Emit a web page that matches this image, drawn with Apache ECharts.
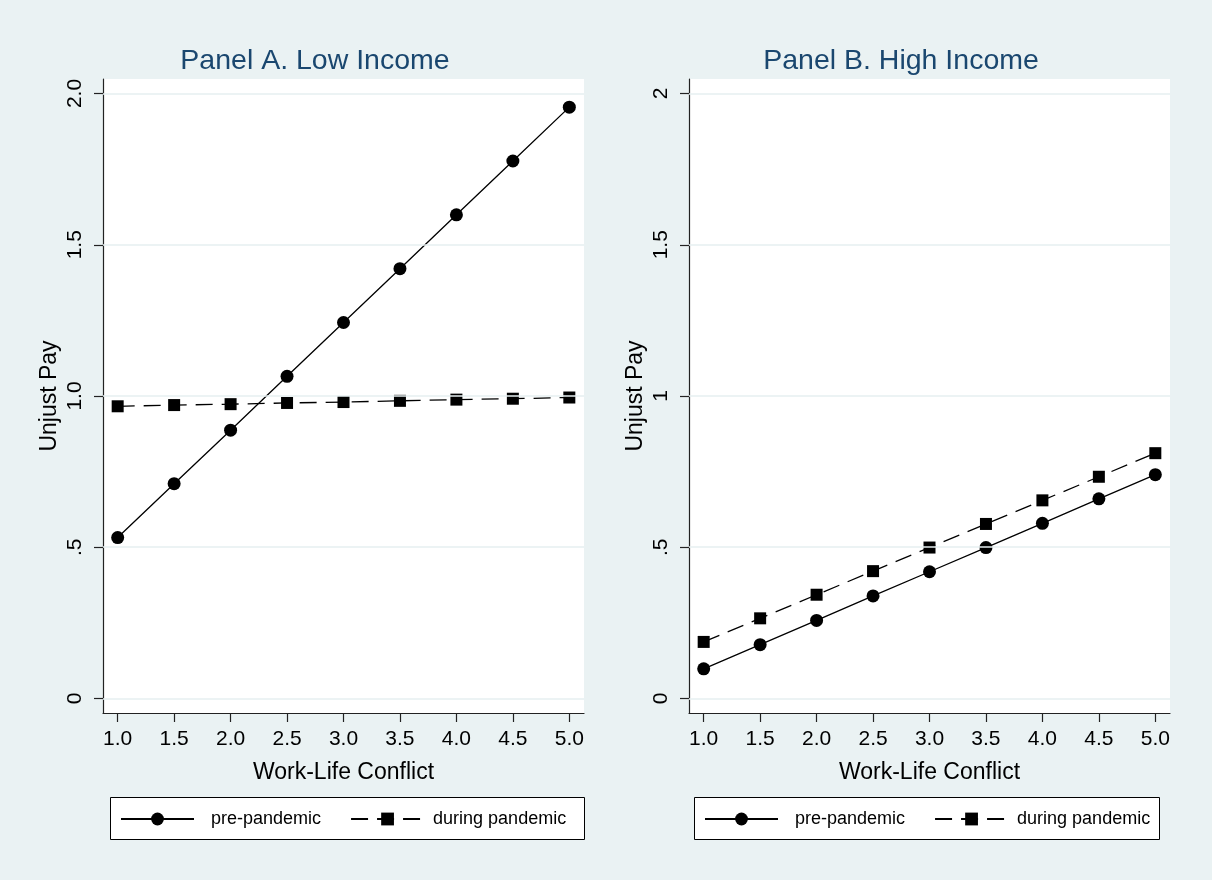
<!DOCTYPE html>
<html>
<head>
<meta charset="utf-8">
<script src="https://cdn.jsdelivr.net/npm/echarts@6/dist/echarts.min.js"></script>
<style>
  html, body { margin: 0; padding: 0; background: #eaf2f3; }
  #chart { width: 1212px; height: 880px; }
</style>
</head>
<body>
<div id="chart"></div>
<script>
// Work-life conflict levels on the x axis
const workLifeConflict = [1.0, 1.5, 2.0, 2.5, 3.0, 3.5, 4.0, 4.5, 5.0];

// Predicted unjust pay, Panel A (low income)
const lowIncomePre = [0.532, 0.710, 0.887, 1.065, 1.243, 1.421, 1.599, 1.777, 1.955];
const lowIncomeDuring = [0.966, 0.970, 0.973, 0.977, 0.980, 0.984, 0.988, 0.991, 0.995];

// Predicted unjust pay, Panel B (high income)
const highIncomePre = [0.098, 0.178, 0.258, 0.339, 0.419, 0.499, 0.579, 0.660, 0.740];
const highIncomeDuring = [0.187, 0.265, 0.343, 0.421, 0.499, 0.577, 0.655, 0.733, 0.811];

// Tick values and labels
const xTicks = [1.0, 1.5, 2.0, 2.5, 3.0, 3.5, 4.0, 4.5, 5.0];
const yTicks = [0, 0.5, 1, 1.5, 2];
const yTickLabelsA = ['0', '.5', '1.0', '1.5', '2.0'];
const yTickLabelsB = ['0', '.5', '1', '1.5', '2'];

const panelTitles = ['Panel A. Low Income', 'Panel B. High Income'];
const seriesNames = ['pre-pandemic', 'during pandemic'];
const xTitle = 'Work-Life Conflict';
const yTitle = 'Unjust Pay';

const FONT = '"Liberation Sans", Arial, Helvetica, sans-serif';
const AXIS_COLOR = '#222';
const GRID_COLOR = '#e6eff1';

const pairs = (ys) => workLifeConflict.map((x, i) => [x, ys[i]]);

function makeXAxis(gridIndex) {
  return {
    type: 'value', gridIndex: gridIndex,
    min: 0.87, max: 5.13,
    name: xTitle, nameLocation: 'middle', nameGap: 48,
    nameTextStyle: { fontFamily: FONT, fontSize: 23, color: '#000' },
    axisLine: { show: true, onZero: false, lineStyle: { color: AXIS_COLOR, width: 1.2 } },
    axisTick: { show: true, inside: false, length: 9, customValues: xTicks, lineStyle: { color: AXIS_COLOR, width: 1.2 } },
    axisLabel: {
      customValues: xTicks, margin: 16,
      fontFamily: FONT, fontSize: 21, color: '#000',
      formatter: (v) => v.toFixed(1)
    },
    splitLine: { show: false }
  };
}

function makeYAxis(gridIndex, labels) {
  return {
    type: 'value', gridIndex: gridIndex,
    min: -0.048, max: 2.048,
    name: yTitle, nameLocation: 'middle', nameGap: 42, nameRotate: 90,
    nameTextStyle: { fontFamily: FONT, fontSize: 23, color: '#000' },
    axisLine: { show: true, onZero: false, lineStyle: { color: AXIS_COLOR, width: 1.2 } },
    axisTick: { show: true, inside: false, length: 9, customValues: yTicks, lineStyle: { color: AXIS_COLOR, width: 1.2 } },
    axisLabel: {
      customValues: yTicks, margin: 17, rotate: 90,
      fontFamily: FONT, fontSize: 21, color: '#000',
      formatter: (v) => {
        const i = yTicks.findIndex(t => Math.abs(t - v) < 1e-9);
        return i >= 0 ? labels[i] : '';
      }
    },
    splitLine: { show: false }
  };
}

function gridLines(idx) {
  return {
    type: 'line', xAxisIndex: idx, yAxisIndex: idx, data: [], z: 1, silent: true,
    markLine: {
      silent: true, symbol: 'none', animation: false,
      label: { show: false },
      lineStyle: { color: GRID_COLOR, width: 1.6, type: 'solid' },
      data: yTicks.map(v => ({ yAxis: v }))
    }
  };
}

function preSeries(idx, ys) {
  return {
    name: seriesNames[0], type: 'line', xAxisIndex: idx, yAxisIndex: idx,
    data: pairs(ys), z: 3,
    symbol: 'circle', symbolSize: 13, showAllSymbol: true,
    lineStyle: { color: '#000', width: 1.3, type: 'solid' },
    itemStyle: { color: '#000' }
  };
}

function duringSeries(idx, ys) {
  return {
    name: seriesNames[1], type: 'line', xAxisIndex: idx, yAxisIndex: idx,
    data: pairs(ys), z: 3,
    symbol: 'rect', symbolSize: 12, showAllSymbol: true,
    lineStyle: { color: '#000', width: 1.3, type: [17, 9] },
    itemStyle: { color: '#000' }
  };
}

function makeLegend(left) {
  return {
    data: [
      { name: seriesNames[0], textStyle: { padding: [0, 0, 0, 12] } },
      { name: seriesNames[1], textStyle: { padding: [0, 0, 0, 4] } }
    ],
    left: left, top: 810, padding: 0,
    orient: 'horizontal',
    itemWidth: 73, itemHeight: 16, itemGap: 29,
    selectedMode: false,
    textStyle: { fontFamily: FONT, fontSize: 18, color: '#000' }
  };
}

const chart = echarts.init(document.getElementById('chart'), null, { renderer: 'canvas' });

chart.setOption({
  animation: false,
  backgroundColor: '#eaf2f3',
  title: [
    { text: panelTitles[0], left: 310, top: 42, textAlign: 'center',
      textStyle: { fontFamily: FONT, fontSize: 28.5, fontWeight: 'normal', color: '#1a476f' } },
    { text: panelTitles[1], left: 896, top: 42, textAlign: 'center',
      textStyle: { fontFamily: FONT, fontSize: 28.5, fontWeight: 'normal', color: '#1a476f' } }
  ],
  grid: [
    { left: 103, width: 481, top: 79, height: 634, show: true, backgroundColor: '#fff', borderWidth: 0 },
    { left: 689, width: 481, top: 79, height: 634, show: true, backgroundColor: '#fff', borderWidth: 0 }
  ],
  xAxis: [makeXAxis(0), makeXAxis(1)],
  yAxis: [makeYAxis(0, yTickLabelsA), makeYAxis(1, yTickLabelsB)],
  graphic: [
    { type: 'rect', z: 0, shape: { x: 110.5, y: 797.5, width: 474, height: 42 },
      style: { fill: '#fff', stroke: '#000', lineWidth: 1 } },
    { type: 'rect', z: 0, shape: { x: 694.5, y: 797.5, width: 465, height: 42 },
      style: { fill: '#fff', stroke: '#000', lineWidth: 1 } }
  ],
  legend: [makeLegend(120), makeLegend(704)],
  series: [
    gridLines(0), gridLines(1),
    preSeries(0, lowIncomePre), duringSeries(0, lowIncomeDuring),
    preSeries(1, highIncomePre), duringSeries(1, highIncomeDuring)
  ]
});
</script>
</body>
</html>
